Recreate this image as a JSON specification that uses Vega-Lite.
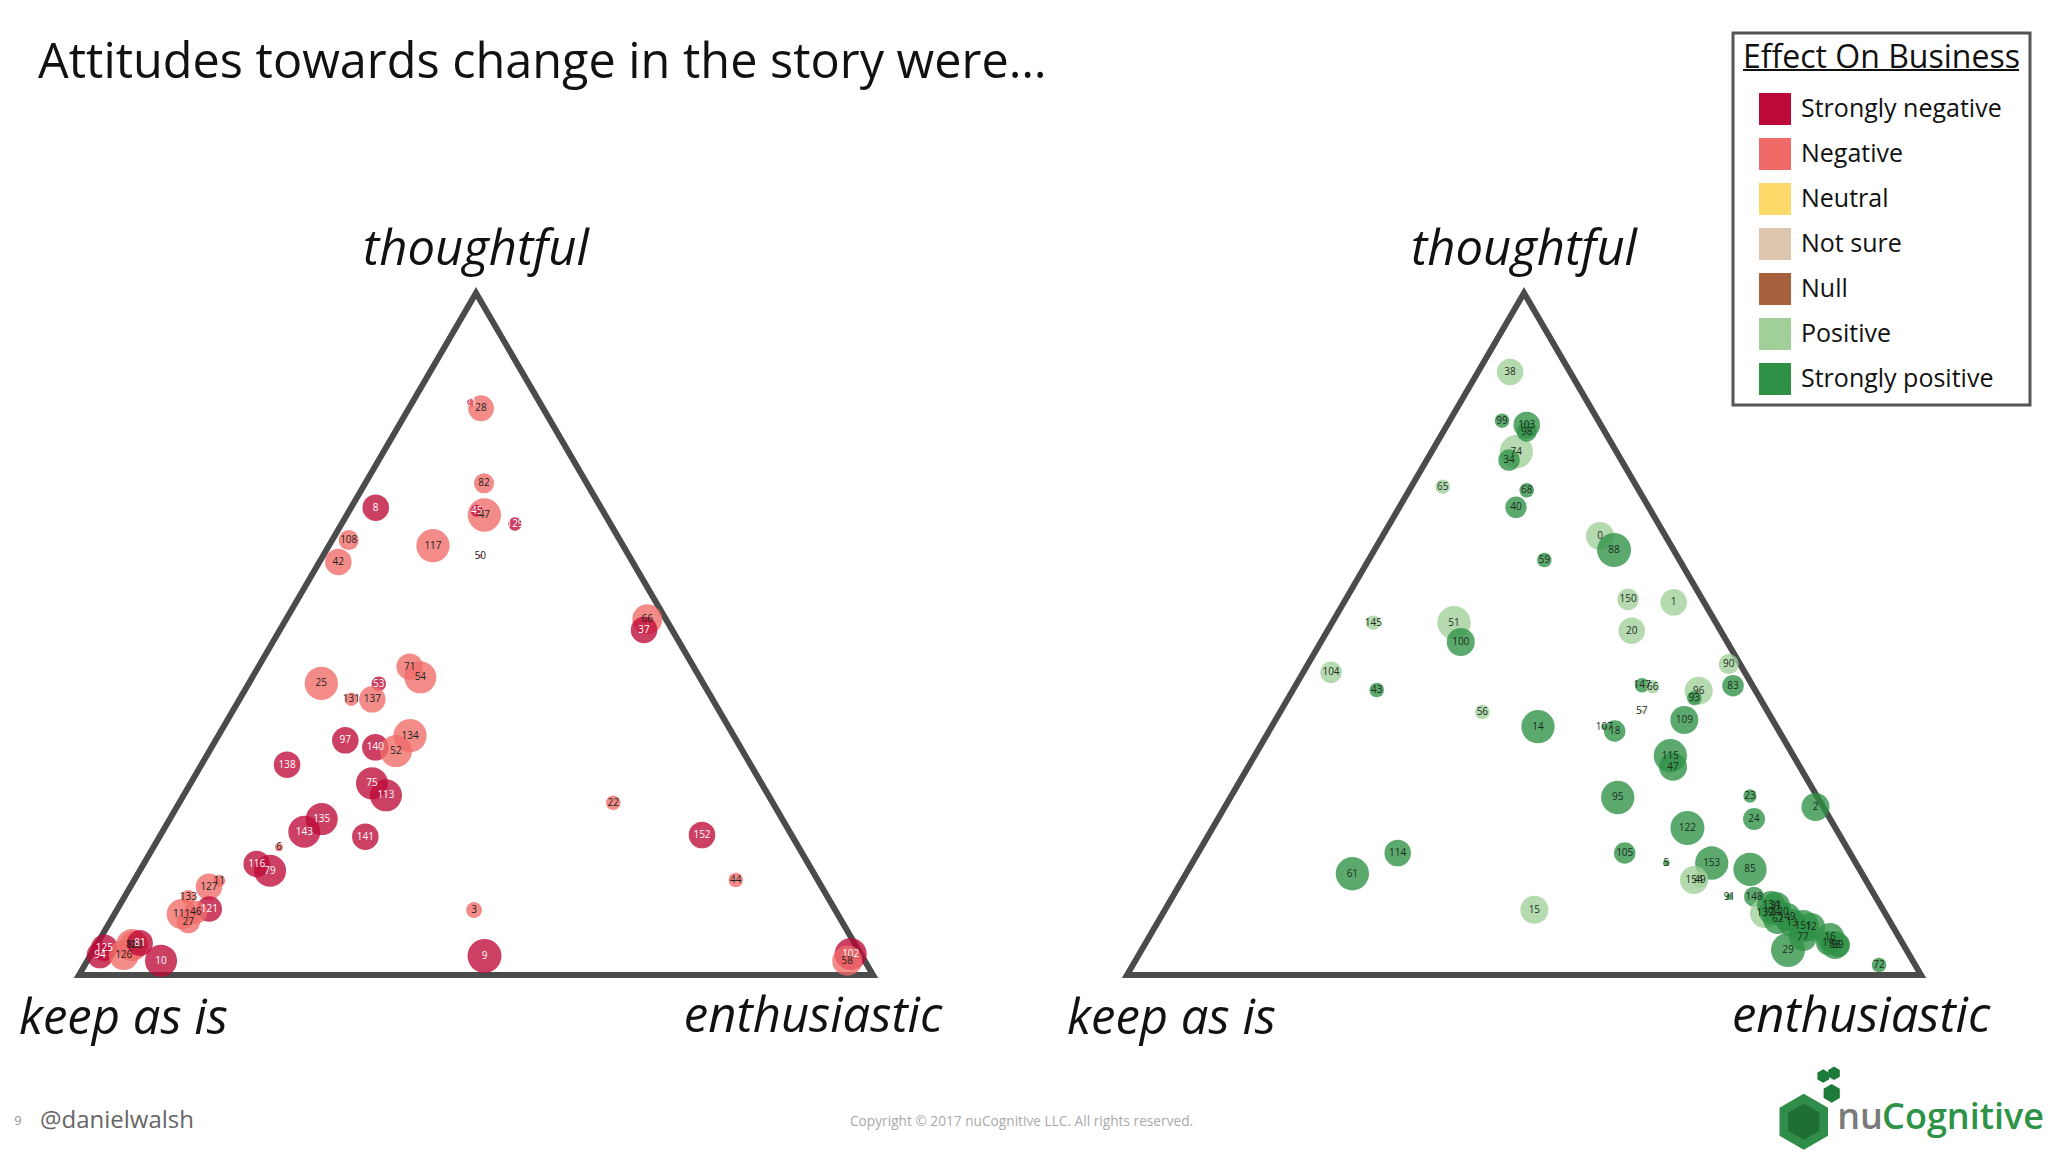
{
  "$schema": "https://vega.github.io/schema/vega-lite/v6.json",
  "width": 2048,
  "height": 1152,
  "autosize": {"type": "fit", "contains": "padding"},
  "padding": 0,
  "background": "white",
  "config": {
    "view": {"stroke": null},
    "legend": {
      "titleFont": "Open Sans", "titleFontSize": 32, "titleFontWeight": "normal", "titleColor": "#111", "titleLimit": 600,
      "titlePadding": 18, "labelFont": "Open Sans", "labelFontSize": 25, "labelColor": "#111",
      "symbolType": "square", "symbolSize": 1024, "symbolOpacity": 1, "symbolStrokeWidth": 0,
      "rowPadding": 13, "padding": 10, "strokeColor": "#555", "strokeWidth": 3,
      "symbolOffset": 16, "labelOffset": 10, "labelLimit": 400
    }
  },
  "datasets": {
    "tri": [
      {"k": 0, "u": 0, "v": 0, "vertex": "keep as is"},
      {"k": 1, "u": 0.5, "v": 1, "vertex": "thoughtful"},
      {"k": 2, "u": 1, "v": 0, "vertex": "enthusiastic"}
    ],
    "left": [
      {"id": "21", "effect": "Strongly negative", "u": 0.4937, "v": 0.8392, "w": 5.5},
      {"id": "28", "effect": "Negative", "u": 0.5063, "v": 0.8309, "w": 58},
      {"id": "82", "effect": "Negative", "u": 0.5101, "v": 0.7210, "w": 35},
      {"id": "47", "effect": "Negative", "u": 0.5105, "v": 0.6745, "w": 96},
      {"id": "45", "effect": "Strongly negative", "u": 0.5009, "v": 0.6808, "w": 12.5},
      {"id": "8", "effect": "Strongly negative", "u": 0.3737, "v": 0.6852, "w": 61},
      {"id": "129", "effect": "Strongly negative", "u": 0.5491, "v": 0.6613, "w": 15.5},
      {"id": "108", "effect": "Negative", "u": 0.3397, "v": 0.6378, "w": 35},
      {"id": "42", "effect": "Negative", "u": 0.3266, "v": 0.6056, "w": 61},
      {"id": "117", "effect": "Negative", "u": 0.4458, "v": 0.6295, "w": 96},
      {"id": "50", "effect": "Negative", "u": 0.5054, "v": 0.6144, "w": 1.4},
      {"id": "25", "effect": "Negative", "u": 0.3052, "v": 0.4277, "w": 96},
      {"id": "53", "effect": "Strongly negative", "u": 0.3775, "v": 0.4271, "w": 18.4},
      {"id": "131", "effect": "Negative", "u": 0.3429, "v": 0.4043, "w": 15.5},
      {"id": "137", "effect": "Negative", "u": 0.3694, "v": 0.4043, "w": 61},
      {"id": "71", "effect": "Negative", "u": 0.4165, "v": 0.4521, "w": 61},
      {"id": "54", "effect": "Negative", "u": 0.4299, "v": 0.4365, "w": 89},
      {"id": "97", "effect": "Strongly negative", "u": 0.3354, "v": 0.3441, "w": 61},
      {"id": "140", "effect": "Strongly negative", "u": 0.3732, "v": 0.3339, "w": 61},
      {"id": "134", "effect": "Negative", "u": 0.4169, "v": 0.3509, "w": 96},
      {"id": "52", "effect": "Negative", "u": 0.3992, "v": 0.3284, "w": 89},
      {"id": "138", "effect": "Strongly negative", "u": 0.2620, "v": 0.3084, "w": 61},
      {"id": "75", "effect": "Strongly negative", "u": 0.3690, "v": 0.2811, "w": 89},
      {"id": "113", "effect": "Strongly negative", "u": 0.3866, "v": 0.2635, "w": 89},
      {"id": "135", "effect": "Strongly negative", "u": 0.3057, "v": 0.2287, "w": 89},
      {"id": "143", "effect": "Strongly negative", "u": 0.2838, "v": 0.2101, "w": 89},
      {"id": "141", "effect": "Strongly negative", "u": 0.3606, "v": 0.2028, "w": 61},
      {"id": "6", "effect": "Negative", "u": 0.2519, "v": 0.1872, "w": 5.5},
      {"id": "116", "effect": "Strongly negative", "u": 0.2238, "v": 0.1628, "w": 61},
      {"id": "79", "effect": "Strongly negative", "u": 0.2406, "v": 0.1529, "w": 89},
      {"id": "11", "effect": "Negative", "u": 0.1767, "v": 0.1383, "w": 12.5},
      {"id": "127", "effect": "Negative", "u": 0.1637, "v": 0.1295, "w": 61},
      {"id": "133", "effect": "Negative", "u": 0.1377, "v": 0.1139, "w": 18.4},
      {"id": "121", "effect": "Strongly negative", "u": 0.1641, "v": 0.0968, "w": 56},
      {"id": "111", "effect": "Negative", "u": 0.1293, "v": 0.0894, "w": 78},
      {"id": "46", "effect": "Negative", "u": 0.1470, "v": 0.0919, "w": 47},
      {"id": "27", "effect": "Negative", "u": 0.1377, "v": 0.0782, "w": 47},
      {"id": "125", "effect": "Strongly negative", "u": 0.0319, "v": 0.0400, "w": 61},
      {"id": "94", "effect": "Strongly negative", "u": 0.0264, "v": 0.0293, "w": 61},
      {"id": "126", "effect": "Negative", "u": 0.0563, "v": 0.0293, "w": 78},
      {"id": "88", "effect": "Negative", "u": 0.0668, "v": 0.0440, "w": 89},
      {"id": "128", "effect": "Negative", "u": 0.0693, "v": 0.0440, "w": 68},
      {"id": "81", "effect": "Strongly negative", "u": 0.0768, "v": 0.0469, "w": 58},
      {"id": "10", "effect": "Strongly negative", "u": 0.1033, "v": 0.0210, "w": 89},
      {"id": "66", "effect": "Negative", "u": 0.7157, "v": 0.5216, "w": 78},
      {"id": "37", "effect": "Strongly negative", "u": 0.7116, "v": 0.5059, "w": 61},
      {"id": "22", "effect": "Negative", "u": 0.6729, "v": 0.2526, "w": 18.4},
      {"id": "152", "effect": "Strongly negative", "u": 0.7846, "v": 0.2053, "w": 61},
      {"id": "44", "effect": "Negative", "u": 0.8271, "v": 0.1393, "w": 18.4},
      {"id": "102", "effect": "Strongly negative", "u": 0.9719, "v": 0.0308, "w": 89},
      {"id": "58", "effect": "Negative", "u": 0.9676, "v": 0.0210, "w": 78},
      {"id": "3", "effect": "Negative", "u": 0.4975, "v": 0.0953, "w": 22},
      {"id": "9", "effect": "Strongly negative", "u": 0.5107, "v": 0.0279, "w": 100}
    ],
    "right": [
      {"id": "38", "effect": "Positive", "u": 0.4824, "v": 0.8842, "w": 61},
      {"id": "99", "effect": "Strongly positive", "u": 0.4723, "v": 0.8128, "w": 18.4},
      {"id": "74", "effect": "Positive", "u": 0.4903, "v": 0.7673, "w": 96},
      {"id": "103", "effect": "Strongly positive", "u": 0.5034, "v": 0.8065, "w": 61},
      {"id": "98", "effect": "Strongly positive", "u": 0.5034, "v": 0.7966, "w": 35},
      {"id": "34", "effect": "Strongly positive", "u": 0.4811, "v": 0.7551, "w": 40},
      {"id": "65", "effect": "Positive", "u": 0.3976, "v": 0.7160, "w": 18.4},
      {"id": "68", "effect": "Strongly positive", "u": 0.5034, "v": 0.7107, "w": 18.4},
      {"id": "40", "effect": "Strongly positive", "u": 0.4899, "v": 0.6858, "w": 40},
      {"id": "59", "effect": "Strongly positive", "u": 0.5256, "v": 0.6085, "w": 18.4},
      {"id": "0", "effect": "Positive", "u": 0.5957, "v": 0.6437, "w": 68},
      {"id": "88", "effect": "Strongly positive", "u": 0.6134, "v": 0.6232, "w": 100},
      {"id": "145", "effect": "Positive", "u": 0.3102, "v": 0.5166, "w": 18.4},
      {"id": "51", "effect": "Positive", "u": 0.4118, "v": 0.5166, "w": 96},
      {"id": "100", "effect": "Strongly positive", "u": 0.4203, "v": 0.4883, "w": 68},
      {"id": "104", "effect": "Positive", "u": 0.2569, "v": 0.4438, "w": 40},
      {"id": "43", "effect": "Strongly positive", "u": 0.3145, "v": 0.4179, "w": 18.4},
      {"id": "56", "effect": "Positive", "u": 0.4475, "v": 0.3856, "w": 18.4},
      {"id": "14", "effect": "Strongly positive", "u": 0.5176, "v": 0.3641, "w": 96},
      {"id": "150", "effect": "Positive", "u": 0.6310, "v": 0.5509, "w": 40},
      {"id": "1", "effect": "Positive", "u": 0.6885, "v": 0.5465, "w": 61},
      {"id": "20", "effect": "Positive", "u": 0.6356, "v": 0.5048, "w": 61},
      {"id": "90", "effect": "Positive", "u": 0.7578, "v": 0.4560, "w": 35},
      {"id": "83", "effect": "Strongly positive", "u": 0.7632, "v": 0.4242, "w": 40},
      {"id": "147", "effect": "Strongly positive", "u": 0.6486, "v": 0.4248, "w": 18.4},
      {"id": "66", "effect": "Positive", "u": 0.6621, "v": 0.4227, "w": 15.5},
      {"id": "96", "effect": "Positive", "u": 0.7200, "v": 0.4169, "w": 68},
      {"id": "93", "effect": "Strongly positive", "u": 0.7145, "v": 0.4062, "w": 18.4},
      {"id": "57", "effect": "Positive", "u": 0.6482, "v": 0.3867, "w": 1.4},
      {"id": "109", "effect": "Strongly positive", "u": 0.7019, "v": 0.3739, "w": 68},
      {"id": "107", "effect": "Strongly positive", "u": 0.6011, "v": 0.3641, "w": 3.1},
      {"id": "18", "effect": "Strongly positive", "u": 0.6142, "v": 0.3578, "w": 40},
      {"id": "115", "effect": "Strongly positive", "u": 0.6843, "v": 0.3216, "w": 96},
      {"id": "47", "effect": "Strongly positive", "u": 0.6877, "v": 0.3054, "w": 68},
      {"id": "95", "effect": "Strongly positive", "u": 0.6180, "v": 0.2603, "w": 96},
      {"id": "23", "effect": "Strongly positive", "u": 0.7846, "v": 0.2625, "w": 15.5},
      {"id": "2", "effect": "Strongly positive", "u": 0.8671, "v": 0.2463, "w": 68},
      {"id": "24", "effect": "Strongly positive", "u": 0.7897, "v": 0.2287, "w": 42},
      {"id": "122", "effect": "Strongly positive", "u": 0.7058, "v": 0.2155, "w": 100},
      {"id": "85", "effect": "Strongly positive", "u": 0.7846, "v": 0.1550, "w": 96},
      {"id": "114", "effect": "Strongly positive", "u": 0.3409, "v": 0.1789, "w": 61},
      {"id": "61", "effect": "Strongly positive", "u": 0.2838, "v": 0.1485, "w": 96},
      {"id": "105", "effect": "Strongly positive", "u": 0.6268, "v": 0.1789, "w": 40},
      {"id": "15", "effect": "Positive", "u": 0.5130, "v": 0.0957, "w": 68},
      {"id": "5", "effect": "Strongly positive", "u": 0.6792, "v": 0.1642, "w": 3.8},
      {"id": "153", "effect": "Strongly positive", "u": 0.7364, "v": 0.1642, "w": 96},
      {"id": "154", "effect": "Positive", "u": 0.7141, "v": 0.1393, "w": 68},
      {"id": "49", "effect": "Positive", "u": 0.7217, "v": 0.1393, "w": 22},
      {"id": "91", "effect": "Strongly positive", "u": 0.7586, "v": 0.1148, "w": 3.8},
      {"id": "148", "effect": "Strongly positive", "u": 0.7897, "v": 0.1148, "w": 35},
      {"id": "139", "effect": "Positive", "u": 0.8035, "v": 0.0909, "w": 78},
      {"id": "134", "effect": "Strongly positive", "u": 0.8111, "v": 0.1026, "w": 68},
      {"id": "31", "effect": "Strongly positive", "u": 0.8174, "v": 0.1012, "w": 68},
      {"id": "124", "effect": "Strongly positive", "u": 0.8123, "v": 0.0924, "w": 58},
      {"id": "120", "effect": "Strongly positive", "u": 0.8224, "v": 0.0924, "w": 50},
      {"id": "62", "effect": "Strongly positive", "u": 0.8199, "v": 0.0821, "w": 78},
      {"id": "149", "effect": "Strongly positive", "u": 0.8312, "v": 0.0850, "w": 68},
      {"id": "13", "effect": "Strongly positive", "u": 0.8375, "v": 0.0762, "w": 68},
      {"id": "151", "effect": "Strongly positive", "u": 0.8514, "v": 0.0718, "w": 89},
      {"id": "12", "effect": "Strongly positive", "u": 0.8615, "v": 0.0704, "w": 68},
      {"id": "77", "effect": "Strongly positive", "u": 0.8514, "v": 0.0557, "w": 68},
      {"id": "29", "effect": "Strongly positive", "u": 0.8325, "v": 0.0367, "w": 100},
      {"id": "16", "effect": "Strongly positive", "u": 0.8854, "v": 0.0557, "w": 68},
      {"id": "19", "effect": "Strongly positive", "u": 0.8829, "v": 0.0469, "w": 50},
      {"id": "58", "effect": "Strongly positive", "u": 0.8917, "v": 0.0440, "w": 68},
      {"id": "89", "effect": "Strongly positive", "u": 0.8955, "v": 0.0440, "w": 50},
      {"id": "72", "effect": "Strongly positive", "u": 0.9471, "v": 0.0147, "w": 18.4}
    ]
  },
  "layer": [
    {
      "layer": [
        {
          "data": {"name": "tri"},
          "mark": {"type": "line", "interpolate": "linear-closed", "stroke": "#4b4b4b", "strokeWidth": 6, "strokeJoin": "miter"},
          "encoding": {
            "x": {"field": "u", "type": "quantitative", "scale": {"domain": [-0.0995, 2.4798], "nice": false, "zero": false}, "axis": null},
            "y": {"field": "v", "type": "quantitative", "scale": {"domain": [-0.2595, 1.4296], "nice": false, "zero": false}, "axis": null},
            "order": {"field": "k", "type": "quantitative"}
          }
        },
        {
          "data": {"name": "tri"},
          "transform": [{"filter": "datum.vertex === 'thoughtful'"}],
          "mark": {"type": "text", "font": "Open Sans", "fontStyle": "italic", "fontSize": 49, "color": "#111", "align": "center", "baseline": "alphabetic", "dy": -28},
          "encoding": {
            "x": {"field": "u", "type": "quantitative", "scale": {"domain": [-0.0995, 2.4798], "nice": false, "zero": false}, "axis": null},
            "y": {"field": "v", "type": "quantitative", "scale": {"domain": [-0.2595, 1.4296], "nice": false, "zero": false}, "axis": null},
            "text": {"field": "vertex"}
          }
        },
        {
          "data": {"name": "tri"},
          "transform": [{"filter": "datum.vertex === 'keep as is'"}],
          "mark": {"type": "text", "font": "Open Sans", "fontStyle": "italic", "fontSize": 49, "color": "#111", "align": "left", "baseline": "alphabetic", "dx": -60, "dy": 59},
          "encoding": {
            "x": {"field": "u", "type": "quantitative", "scale": {"domain": [-0.0995, 2.4798], "nice": false, "zero": false}, "axis": null},
            "y": {"field": "v", "type": "quantitative", "scale": {"domain": [-0.2595, 1.4296], "nice": false, "zero": false}, "axis": null},
            "text": {"field": "vertex"}
          }
        },
        {
          "data": {"name": "tri"},
          "transform": [{"filter": "datum.vertex === 'enthusiastic'"}],
          "mark": {"type": "text", "font": "Open Sans", "fontStyle": "italic", "fontSize": 49, "color": "#111", "align": "center", "baseline": "alphabetic", "dx": -60, "dy": 57},
          "encoding": {
            "x": {"field": "u", "type": "quantitative", "scale": {"domain": [-0.0995, 2.4798], "nice": false, "zero": false}, "axis": null},
            "y": {"field": "v", "type": "quantitative", "scale": {"domain": [-0.2595, 1.4296], "nice": false, "zero": false}, "axis": null},
            "text": {"field": "vertex"}
          }
        },
        {
          "data": {"name": "left"},
          "mark": {"type": "circle", "opacity": 0.78},
          "encoding": {
            "x": {"field": "u", "type": "quantitative", "scale": {"domain": [-0.0995, 2.4798], "nice": false, "zero": false}, "axis": null},
            "y": {"field": "v", "type": "quantitative", "scale": {"domain": [-0.2595, 1.4296], "nice": false, "zero": false}, "axis": null},
            "size": {"field": "w", "type": "quantitative", "scale": {"domain": [0, 100], "range": [0, 1156], "zero": true}, "legend": null},
            "color": {
              "field": "effect", "type": "nominal",
              "scale": {"domain": ["Strongly negative", "Negative", "Neutral", "Not sure", "Null", "Positive", "Strongly positive"], "range": ["#be0a38", "#f06b68", "#fcd968", "#dcc6af", "#a6603c", "#a0cf98", "#2e9145"]},
              "legend": {"title": "Effect On Business", "orient": "none", "legendX": 1733, "legendY": 33, "direction": "vertical"}
            }
          }
        },
        {
          "data": {"name": "left"},
          "mark": {"type": "text", "font": "Open Sans", "fontSize": 10, "align": "center", "baseline": "middle"},
          "encoding": {
            "x": {"field": "u", "type": "quantitative", "scale": {"domain": [-0.0995, 2.4798], "nice": false, "zero": false}, "axis": null},
            "y": {"field": "v", "type": "quantitative", "scale": {"domain": [-0.2595, 1.4296], "nice": false, "zero": false}, "axis": null},
            "text": {"field": "id"},
            "color": {"condition": {"test": "datum.effect === 'Strongly negative'", "value": "#ffffff"}, "value": "#222222"}
          }
        },
        {
          "data": {"values": [{"label": "Attitudes towards change in the story were…", "u": -0.0516, "v": 1.3147}]},
          "mark": {"type": "text", "font": "Open Sans", "fontSize": 48.6, "color": "#111", "align": "left", "baseline": "alphabetic"},
          "encoding": {
            "x": {"field": "u", "type": "quantitative", "scale": {"domain": [-0.0995, 2.4798], "nice": false, "zero": false}, "axis": null},
            "y": {"field": "v", "type": "quantitative", "scale": {"domain": [-0.2595, 1.4296], "nice": false, "zero": false}, "axis": null},
            "text": {"field": "label"}
          }
        },
        {
          "data": {"values": [{"label": "9", "u": -0.0768, "v": -0.2141}]},
          "mark": {"type": "text", "font": "Open Sans", "fontSize": 13, "color": "#999", "align": "center", "baseline": "middle"},
          "encoding": {
            "x": {"field": "u", "type": "quantitative", "scale": {"domain": [-0.0995, 2.4798], "nice": false, "zero": false}, "axis": null},
            "y": {"field": "v", "type": "quantitative", "scale": {"domain": [-0.2595, 1.4296], "nice": false, "zero": false}, "axis": null},
            "text": {"field": "label"}
          }
        },
        {
          "data": {"values": [{"label": "@danielwalsh", "u": -0.0491, "v": -0.2141}]},
          "mark": {"type": "text", "font": "Open Sans", "fontSize": 24, "color": "#666", "align": "left", "baseline": "middle"},
          "encoding": {
            "x": {"field": "u", "type": "quantitative", "scale": {"domain": [-0.0995, 2.4798], "nice": false, "zero": false}, "axis": null},
            "y": {"field": "v", "type": "quantitative", "scale": {"domain": [-0.2595, 1.4296], "nice": false, "zero": false}, "axis": null},
            "text": {"field": "label"}
          }
        },
        {
          "data": {"values": [{"label": "Copyright © 2017 nuCognitive LLC. All rights reserved.", "u": 0.9710, "v": -0.2155}]},
          "mark": {"type": "text", "font": "Open Sans", "fontSize": 13.7, "color": "#aaa", "align": "left", "baseline": "middle"},
          "encoding": {
            "x": {"field": "u", "type": "quantitative", "scale": {"domain": [-0.0995, 2.4798], "nice": false, "zero": false}, "axis": null},
            "y": {"field": "v", "type": "quantitative", "scale": {"domain": [-0.2595, 1.4296], "nice": false, "zero": false}, "axis": null},
            "text": {"field": "label"}
          }
        }
      ]
    },
    {
      "layer": [
        {
          "data": {"name": "tri"},
          "mark": {"type": "line", "interpolate": "linear-closed", "stroke": "#4b4b4b", "strokeWidth": 6, "strokeJoin": "miter"},
          "encoding": {
            "x": {"field": "u", "type": "quantitative", "scale": {"domain": [-1.4194, 1.1599], "nice": false, "zero": false}, "axis": null},
            "y": {"field": "v", "type": "quantitative", "scale": {"domain": [-0.2595, 1.4296], "nice": false, "zero": false}, "axis": null},
            "order": {"field": "k", "type": "quantitative"}
          }
        },
        {
          "data": {"name": "tri"},
          "transform": [{"filter": "datum.vertex === 'thoughtful'"}],
          "mark": {"type": "text", "font": "Open Sans", "fontStyle": "italic", "fontSize": 49, "color": "#111", "align": "center", "baseline": "alphabetic", "dy": -28},
          "encoding": {
            "x": {"field": "u", "type": "quantitative", "scale": {"domain": [-1.4194, 1.1599], "nice": false, "zero": false}, "axis": null},
            "y": {"field": "v", "type": "quantitative", "scale": {"domain": [-0.2595, 1.4296], "nice": false, "zero": false}, "axis": null},
            "text": {"field": "vertex"}
          }
        },
        {
          "data": {"name": "tri"},
          "transform": [{"filter": "datum.vertex === 'keep as is'"}],
          "mark": {"type": "text", "font": "Open Sans", "fontStyle": "italic", "fontSize": 49, "color": "#111", "align": "left", "baseline": "alphabetic", "dx": -60, "dy": 59},
          "encoding": {
            "x": {"field": "u", "type": "quantitative", "scale": {"domain": [-1.4194, 1.1599], "nice": false, "zero": false}, "axis": null},
            "y": {"field": "v", "type": "quantitative", "scale": {"domain": [-0.2595, 1.4296], "nice": false, "zero": false}, "axis": null},
            "text": {"field": "vertex"}
          }
        },
        {
          "data": {"name": "tri"},
          "transform": [{"filter": "datum.vertex === 'enthusiastic'"}],
          "mark": {"type": "text", "font": "Open Sans", "fontStyle": "italic", "fontSize": 49, "color": "#111", "align": "center", "baseline": "alphabetic", "dx": -60, "dy": 57},
          "encoding": {
            "x": {"field": "u", "type": "quantitative", "scale": {"domain": [-1.4194, 1.1599], "nice": false, "zero": false}, "axis": null},
            "y": {"field": "v", "type": "quantitative", "scale": {"domain": [-0.2595, 1.4296], "nice": false, "zero": false}, "axis": null},
            "text": {"field": "vertex"}
          }
        },
        {
          "data": {"name": "right"},
          "mark": {"type": "circle", "opacity": 0.78},
          "encoding": {
            "x": {"field": "u", "type": "quantitative", "scale": {"domain": [-1.4194, 1.1599], "nice": false, "zero": false}, "axis": null},
            "y": {"field": "v", "type": "quantitative", "scale": {"domain": [-0.2595, 1.4296], "nice": false, "zero": false}, "axis": null},
            "size": {"field": "w", "type": "quantitative", "scale": {"domain": [0, 100], "range": [0, 1156], "zero": true}, "legend": null},
            "color": {
              "field": "effect", "type": "nominal",
              "scale": {"domain": ["Strongly negative", "Negative", "Neutral", "Not sure", "Null", "Positive", "Strongly positive"], "range": ["#be0a38", "#f06b68", "#fcd968", "#dcc6af", "#a6603c", "#a0cf98", "#2e9145"]},
              "legend": {"title": "Effect On Business", "orient": "none", "legendX": 1733, "legendY": 33, "direction": "vertical"}
            }
          }
        },
        {
          "data": {"name": "right"},
          "mark": {"type": "text", "font": "Open Sans", "fontSize": 10, "align": "center", "baseline": "middle", "color": "#1d2b1f"},
          "encoding": {
            "x": {"field": "u", "type": "quantitative", "scale": {"domain": [-1.4194, 1.1599], "nice": false, "zero": false}, "axis": null},
            "y": {"field": "v", "type": "quantitative", "scale": {"domain": [-0.2595, 1.4296], "nice": false, "zero": false}, "axis": null},
            "text": {"field": "id"}
          }
        },
        {
          "data": {"values": [{"part": "underline", "u": 0.7758, "u2": 1.1234, "v": 1.3270}]},
          "mark": {"type": "rule", "color": "#111", "strokeWidth": 2},
          "encoding": {
            "x": {"field": "u", "type": "quantitative", "scale": {"domain": [-1.4194, 1.1599], "nice": false, "zero": false}, "axis": null},
            "x2": {"field": "u2"},
            "y": {"field": "v", "type": "quantitative", "scale": {"domain": [-0.2595, 1.4296], "nice": false, "zero": false}, "axis": null}
          }
        },
        {
          "data": {"values": [{"part": "outer", "u": 0.8523, "v": -0.2151}]},
          "mark": {"type": "point", "shape": "M0,-1L0.866,-0.5L0.866,0.5L0,1L-0.866,0.5L-0.866,-0.5Z", "filled": true, "size": 3136, "color": "#2f8c49", "opacity": 1},
          "encoding": {
            "x": {"field": "u", "type": "quantitative", "scale": {"domain": [-1.4194, 1.1599], "nice": false, "zero": false}, "axis": null},
            "y": {"field": "v", "type": "quantitative", "scale": {"domain": [-0.2595, 1.4296], "nice": false, "zero": false}, "axis": null}
          }
        },
        {
          "data": {"values": [{"part": "inner", "u": 0.8523, "v": -0.2151}]},
          "mark": {"type": "point", "shape": "M0,-1L0.866,-0.5L0.866,0.5L0,1L-0.866,0.5L-0.866,-0.5Z", "filled": true, "size": 1300, "color": "#1f6e35", "opacity": 1},
          "encoding": {
            "x": {"field": "u", "type": "quantitative", "scale": {"domain": [-1.4194, 1.1599], "nice": false, "zero": false}, "axis": null},
            "y": {"field": "v", "type": "quantitative", "scale": {"domain": [-0.2595, 1.4296], "nice": false, "zero": false}, "axis": null}
          }
        },
        {
          "data": {"values": [
            {"part": "dot1", "u": 0.8768, "v": -0.1481, "s": 1},
            {"part": "dot2", "u": 0.8904, "v": -0.1441, "s": 1},
            {"part": "dot3", "u": 0.8875, "v": -0.1735, "s": 2}
          ]},
          "mark": {"type": "point", "shape": "M0,-1L0.866,-0.5L0.866,0.5L0,1L-0.866,0.5L-0.866,-0.5Z", "filled": true, "color": "#1c7a3a", "opacity": 1},
          "encoding": {
            "x": {"field": "u", "type": "quantitative", "scale": {"domain": [-1.4194, 1.1599], "nice": false, "zero": false}, "axis": null},
            "y": {"field": "v", "type": "quantitative", "scale": {"domain": [-0.2595, 1.4296], "nice": false, "zero": false}, "axis": null},
            "size": {"field": "s", "type": "ordinal", "scale": {"domain": [1, 2], "range": [180, 350]}, "legend": null}
          }
        },
        {
          "data": {"values": [{"label": "nu", "u": 0.9521, "v": -0.2262}]},
          "mark": {"type": "text", "font": "Open Sans", "fontSize": 36, "fontWeight": 600, "color": "#7a7a7a", "align": "right", "baseline": "alphabetic"},
          "encoding": {
            "x": {"field": "u", "type": "quantitative", "scale": {"domain": [-1.4194, 1.1599], "nice": false, "zero": false}, "axis": null},
            "y": {"field": "v", "type": "quantitative", "scale": {"domain": [-0.2595, 1.4296], "nice": false, "zero": false}, "axis": null},
            "text": {"field": "label"}
          }
        },
        {
          "data": {"values": [{"label": "Cognitive", "u": 1.1549, "v": -0.2262}]},
          "mark": {"type": "text", "font": "Open Sans", "fontSize": 36, "fontWeight": 600, "color": "#2e9346", "align": "right", "baseline": "alphabetic"},
          "encoding": {
            "x": {"field": "u", "type": "quantitative", "scale": {"domain": [-1.4194, 1.1599], "nice": false, "zero": false}, "axis": null},
            "y": {"field": "v", "type": "quantitative", "scale": {"domain": [-0.2595, 1.4296], "nice": false, "zero": false}, "axis": null},
            "text": {"field": "label"}
          }
        }
      ]
    }
  ],
  "resolve": {"scale": {"x": "independent", "size": "independent"}}
}
